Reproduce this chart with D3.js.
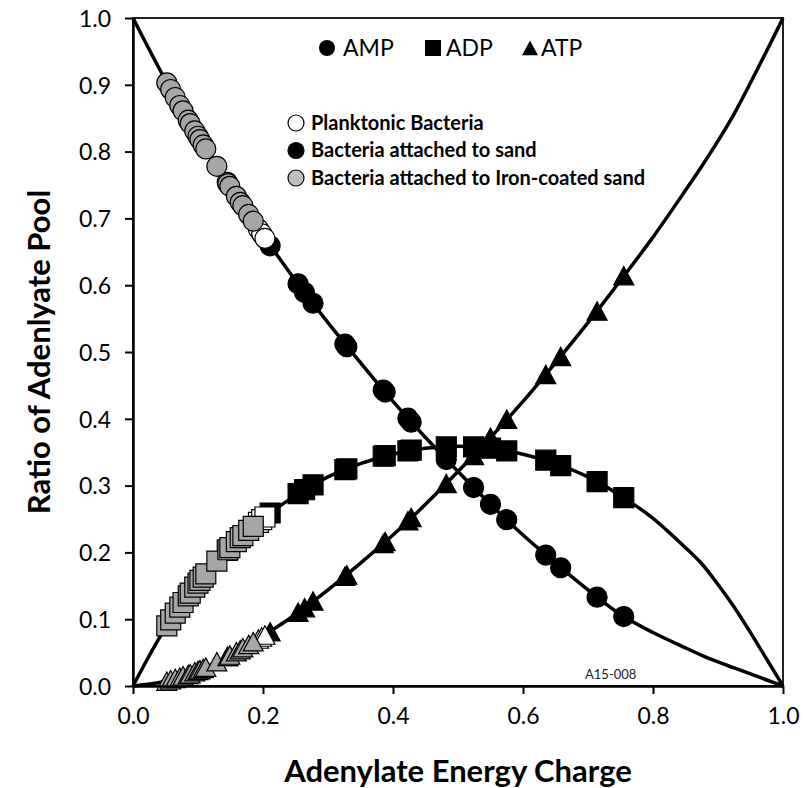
<!DOCTYPE html>
<html>
<head>
<meta charset="utf-8">
<script src="https://cdn.jsdelivr.net/npm/d3@7"></script>
<style>
  html, body { margin: 0; padding: 0; background: #fff; }
  svg { display: block; font-family: Lato, "Open Sans", sans-serif; }
</style>
</head>
<body>
<svg id="chart" width="803" height="788"></svg>
<script>
// ---------- data ----------
const xTicks = [0, 0.2, 0.4, 0.6, 0.8, 1.0];
const yTicks = [0, 0.1, 0.2, 0.3, 0.4, 0.5, 0.6, 0.7, 0.8, 0.9, 1.0];

// curves
const lineCharge = [0, 0.05, 0.1, 0.15, 0.2, 0.25, 0.3, 0.35, 0.4, 0.45, 0.5, 0.55, 0.6, 0.65, 0.7, 0.75, 0.8, 0.85, 0.875, 0.9, 0.925, 0.95, 0.975, 1.0];
const lineAMP = [1.0, 0.907, 0.823, 0.746, 0.675, 0.607, 0.544, 0.484, 0.426, 0.372, 0.321, 0.272, 0.226, 0.184, 0.144, 0.107, 0.080, 0.057, 0.046, 0.036, 0.027, 0.018, 0.009, 0.0];
const lineADP = [0.0, 0.087, 0.154, 0.208, 0.251, 0.285, 0.313, 0.333, 0.347, 0.356, 0.359, 0.356, 0.347, 0.333, 0.313, 0.285, 0.251, 0.207, 0.183, 0.152, 0.118, 0.080, 0.040, 0.0];
const lineATP = [0.0, 0.007, 0.023, 0.046, 0.075, 0.107, 0.144, 0.184, 0.226, 0.272, 0.321, 0.372, 0.426, 0.484, 0.544, 0.607, 0.672, 0.742, 0.778, 0.816, 0.857, 0.903, 0.951, 1.0];

// Planktonic bacteria
const planktonicCharge = [0.145, 0.193, 0.198, 0.203];
const planktonicAMP = [0.754, 0.684, 0.677, 0.670];
const planktonicADP = [0.203, 0.245, 0.249, 0.253];
const planktonicATP = [0.044, 0.070, 0.073, 0.076];

// Bacteria attached to sand
const sandCharge = [0.211, 0.254, 0.264, 0.277, 0.326, 0.329, 0.385, 0.388, 0.423, 0.428, 0.482, 0.524, 0.550, 0.575, 0.635, 0.658, 0.714, 0.755];
const sandAMP = [0.659, 0.602, 0.589, 0.573, 0.512, 0.508, 0.443, 0.440, 0.401, 0.395, 0.339, 0.297, 0.272, 0.249, 0.196, 0.177, 0.133, 0.104];
const sandADP = [0.259, 0.288, 0.294, 0.301, 0.324, 0.325, 0.344, 0.345, 0.352, 0.353, 0.358, 0.358, 0.356, 0.352, 0.338, 0.330, 0.306, 0.282];
const sandATP = [0.081, 0.110, 0.117, 0.127, 0.164, 0.166, 0.213, 0.216, 0.247, 0.252, 0.303, 0.345, 0.372, 0.399, 0.466, 0.493, 0.561, 0.614];

// Bacteria attached to iron-coated sand
const ironCharge = [0.052, 0.058, 0.065, 0.072, 0.077, 0.085, 0.088, 0.095, 0.100, 0.103, 0.108, 0.112, 0.129, 0.146, 0.149, 0.159, 0.165, 0.169, 0.178, 0.185];
const ironAMP = [0.903, 0.893, 0.881, 0.869, 0.861, 0.847, 0.842, 0.831, 0.823, 0.818, 0.810, 0.804, 0.778, 0.752, 0.748, 0.733, 0.724, 0.719, 0.706, 0.696];
const ironADP = [0.090, 0.099, 0.109, 0.118, 0.125, 0.135, 0.139, 0.148, 0.154, 0.158, 0.163, 0.168, 0.187, 0.204, 0.207, 0.216, 0.222, 0.225, 0.233, 0.239];
const ironATP = [0.007, 0.009, 0.011, 0.013, 0.015, 0.017, 0.018, 0.021, 0.023, 0.024, 0.026, 0.028, 0.036, 0.044, 0.046, 0.051, 0.054, 0.057, 0.062, 0.066];

const speciesNames = ["AMP", "ADP", "ATP"];
const groupNames = ["Planktonic Bacteria", "Bacteria attached to sand", "Bacteria attached to Iron-coated sand"];
const noteText = "A15-008";

// ---------- drawing ----------
const svg = d3.select("#chart");
const x = d3.scaleLinear().domain([0, 1]).range([133, 783]);
const y = d3.scaleLinear().domain([0, 1]).range([686, 18]);

function markerPath(shape, s) {
  const p = d3.path();
  if (shape === "circle") { p.arc(0, 0, s / 2, 0, 2 * Math.PI); }
  else if (shape === "square") { p.rect(-s / 2, -s / 2, s, s); }
  else { p.moveTo(0, -s * 0.47); p.lineTo(s / 2, s * 0.45); p.lineTo(-s / 2, s * 0.45); p.closePath(); }
  return p.toString();
}
const shapeOf = { AMP: "circle", ADP: "square", ATP: "triangle" };

// frame (top & right)
svg.append("rect")
  .attr("x", x(0)).attr("y", y(1))
  .attr("width", x(1) - x(0)).attr("height", y(0) - y(1))
  .attr("fill", "none").attr("stroke", "#222").attr("stroke-width", 2);

// curves
const lineGen = d3.line().x(d => x(d[0])).y(d => y(d[1])).curve(d3.curveCatmullRom.alpha(0.5));
[lineAMP, lineADP, lineATP].forEach(vals => {
  svg.append("path")
    .datum(lineCharge.map((c, i) => [c, vals[i]]))
    .attr("d", lineGen)
    .attr("fill", "none").attr("stroke", "#000").attr("stroke-width", 3.5)
    .attr("stroke-linejoin", "round");
});

// markers: sand (black) first, then planktonic (white), then iron (gray)
const groups = [
  { charge: sandCharge, vals: { AMP: sandAMP, ADP: sandADP, ATP: sandATP }, fill: "#000" },
  { charge: planktonicCharge, vals: { AMP: planktonicAMP, ADP: planktonicADP, ATP: planktonicATP }, fill: "#fff" },
  { charge: ironCharge, vals: { AMP: ironAMP, ADP: ironADP, ATP: ironATP }, fill: "#a6a6a6" }
];
groups.forEach(g => {
  speciesNames.forEach(sp => {
    const pts = g.charge.map((c, i) => [c, g.vals[sp][i]]);
    svg.append("g").selectAll("path").data(pts).join("path")
      .attr("d", markerPath(shapeOf[sp], 20))
      .attr("transform", d => `translate(${x(d[0])},${y(d[1])})`)
      .attr("fill", g.fill).attr("stroke", "#000").attr("stroke-width", 1.2);
  });
});

// axes
const xAxis = svg.append("g").attr("transform", `translate(0,${y(0)})`)
  .call(d3.axisBottom(x).tickValues(xTicks).tickFormat(d3.format(".1f")).tickSizeInner(8).tickSizeOuter(0).tickPadding(14));
const yAxis = svg.append("g").attr("transform", `translate(${x(0)},0)`)
  .call(d3.axisLeft(y).tickValues(yTicks).tickFormat(d3.format(".1f")).tickSizeInner(8).tickSizeOuter(0).tickPadding(14));
[xAxis, yAxis].forEach(a => {
  a.select(".domain").attr("stroke", "#000").attr("stroke-width", 2.5);
  a.selectAll(".tick line").attr("stroke", "#000").attr("stroke-width", 2);
  a.selectAll(".tick text").attr("font-size", 23).attr("fill", "#000")
    .attr("font-family", "Lato, 'Open Sans', sans-serif");
});
yAxis.selectAll(".tick text").attr("dy", "0.36em");

// axis titles
svg.append("text").attr("x", (x(0) + x(1)) / 2).attr("y", 782)
  .attr("text-anchor", "middle").attr("font-size", 31).attr("font-weight", "bold")
  .text("Adenylate Energy Charge");
svg.append("text").attr("transform", `translate(50,${(y(0) + y(1)) / 2}) rotate(-90)`)
  .attr("text-anchor", "middle").attr("font-size", 31).attr("font-weight", "bold")
  .text("Ratio of Adenlyate Pool");

// top legend (species)
const legTop = [{ name: speciesNames[0], cx: 327, tx: 343 }, { name: speciesNames[1], cx: 433, tx: 446 }, { name: speciesNames[2], cx: 530, tx: 541 }];
legTop.forEach(l => {
  svg.append("path").attr("d", markerPath(shapeOf[l.name], 16))
    .attr("transform", `translate(${l.cx},48)`).attr("fill", "#000");
  svg.append("text").attr("x", l.tx).attr("y", 56).attr("font-size", 23).text(l.name);
});

// group legend
const legFills = ["#fff", "#000", "#bfbfbf"];
groupNames.forEach((n, i) => {
  const cy = 123 + i * 27.5;
  svg.append("circle").attr("cx", 296).attr("cy", cy).attr("r", 8)
    .attr("fill", legFills[i]).attr("stroke", "#000").attr("stroke-width", 1.2);
  svg.append("text").attr("x", 311).attr("y", cy + 6.5).attr("font-size", 20).attr("font-weight", "bold").text(n);
});

// note
svg.append("text").attr("x", 585).attr("y", 679).attr("font-size", 13).attr("fill", "#222").text(noteText);
</script>
</body>
</html>
